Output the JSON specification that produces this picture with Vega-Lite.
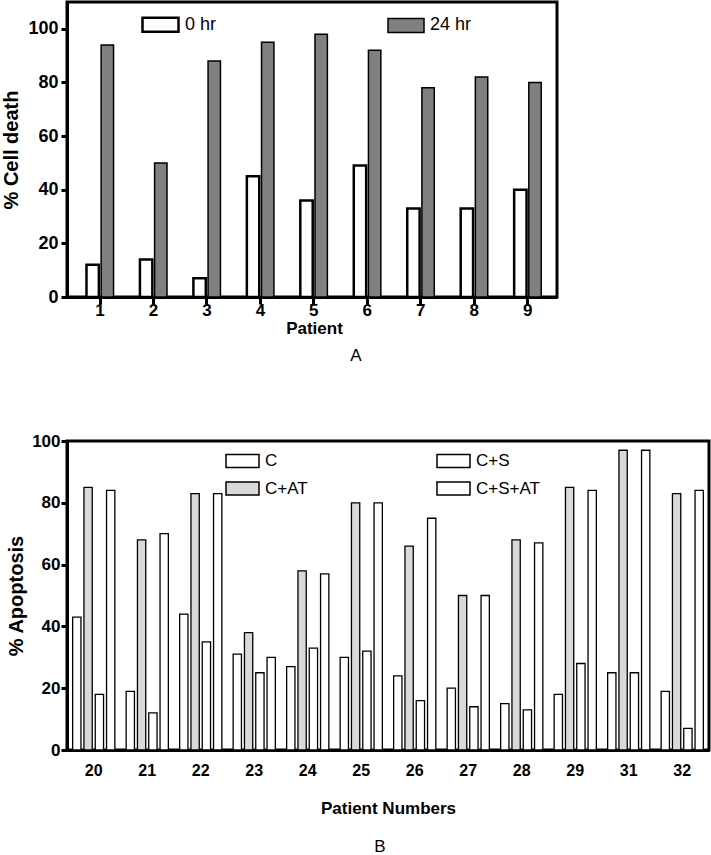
{
  "$schema": "https://vega.github.io/schema/vega-lite/v6.json",
  "padding": {"left": 0, "top": 0, "right": 1, "bottom": 0},
  "spacing": 64,
  "resolve": {"scale": {"fill": "independent", "xOffset": "independent", "strokeWidth": "independent", "x": "independent", "y": "independent"}, "legend": {"fill": "independent"}},
  "config": {
    "font": "Liberation Sans",
    "view": {"stroke": "black", "strokeWidth": 3},
    "axis": {
      "labelColor": "black", "labelFontWeight": "bold", "labelFontSize": 17, "labelFont": "Liberation Sans",
      "titleColor": "black", "titleFontWeight": "bold", "titleFontSize": 17, "titleFont": "Liberation Sans",
      "domainColor": "black", "domainWidth": 3, "tickColor": "black", "tickWidth": 3, "grid": false
    },
    "title": {"font": "Liberation Sans", "fontSize": 17, "fontWeight": "normal", "color": "black"}
  },
  "vconcat": [
    {
      "width": 490, "height": 295,
      "title": {"text": "A", "orient": "bottom", "anchor": "middle", "dx": 44, "offset": 12},
      "data": {"values": [
        {"patient": 1, "time": "0 hr", "value": 12}, {"patient": 1, "time": "24 hr", "value": 94},
        {"patient": 2, "time": "0 hr", "value": 14}, {"patient": 2, "time": "24 hr", "value": 50},
        {"patient": 3, "time": "0 hr", "value": 7}, {"patient": 3, "time": "24 hr", "value": 88},
        {"patient": 4, "time": "0 hr", "value": 45}, {"patient": 4, "time": "24 hr", "value": 95},
        {"patient": 5, "time": "0 hr", "value": 36}, {"patient": 5, "time": "24 hr", "value": 98},
        {"patient": 6, "time": "0 hr", "value": 49}, {"patient": 6, "time": "24 hr", "value": 92},
        {"patient": 7, "time": "0 hr", "value": 33}, {"patient": 7, "time": "24 hr", "value": 78},
        {"patient": 8, "time": "0 hr", "value": 33}, {"patient": 8, "time": "24 hr", "value": 82},
        {"patient": 9, "time": "0 hr", "value": 40}, {"patient": 9, "time": "24 hr", "value": 80}
      ]},
      "mark": {"type": "bar", "stroke": "black"},
      "encoding": {
        "x": {"field": "patient", "type": "ordinal", "scale": {"paddingInner": 0, "paddingOuter": 0.083, "align": 0.708},
              "axis": {"title": "Patient", "labelAngle": 0, "tickSize": 7, "labelPadding": -2, "titlePadding": 2, "titleX": 247}},
        "xOffset": {"field": "time", "type": "nominal", "sort": ["0 hr", "24 hr"], "scale": {"paddingInner": 0.155, "paddingOuter": 0.9}},
        "y": {"field": "value", "type": "quantitative", "scale": {"domain": [0, 110], "nice": false},
              "axis": {"values": [0, 20, 40, 60, 80, 100], "title": "% Cell death", "tickSize": 6, "labelPadding": 3, "titlePadding": 6, "labelFontSize": 18, "titleFontSize": 20}},
        "fill": {"field": "time", "type": "nominal", "scale": {"domain": ["0 hr", "24 hr"], "range": ["white", "#808080"]},
                 "legend": {"title": null, "orient": "none", "legendX": 74, "legendY": 3, "direction": "horizontal", "columnPadding": 168,
                            "symbolType": "M-1,-0.39H1V0.39H-1Z", "symbolSize": 1296, "symbolStrokeColor": "black", "symbolStrokeWidth": 2,
                            "labelFontSize": 18, "labelColor": "black", "labelOffset": 5, "labelFont": "Liberation Sans"}},
        "strokeWidth": {"field": "time", "type": "nominal", "scale": {"domain": ["0 hr", "24 hr"], "range": [2.5, 1.5]}, "legend": null}
      }
    },
    {
      "width": 642, "height": 309,
      "title": {"text": "B", "orient": "bottom", "anchor": "middle", "dx": -8, "offset": 23},
      "data": {"values": [
        {"patient": 20, "group": "C", "value": 43}, {"patient": 20, "group": "C+AT", "value": 85}, {"patient": 20, "group": "C+S", "value": 18}, {"patient": 20, "group": "C+S+AT", "value": 84},
        {"patient": 21, "group": "C", "value": 19}, {"patient": 21, "group": "C+AT", "value": 68}, {"patient": 21, "group": "C+S", "value": 12}, {"patient": 21, "group": "C+S+AT", "value": 70},
        {"patient": 22, "group": "C", "value": 44}, {"patient": 22, "group": "C+AT", "value": 83}, {"patient": 22, "group": "C+S", "value": 35}, {"patient": 22, "group": "C+S+AT", "value": 83},
        {"patient": 23, "group": "C", "value": 31}, {"patient": 23, "group": "C+AT", "value": 38}, {"patient": 23, "group": "C+S", "value": 25}, {"patient": 23, "group": "C+S+AT", "value": 30},
        {"patient": 24, "group": "C", "value": 27}, {"patient": 24, "group": "C+AT", "value": 58}, {"patient": 24, "group": "C+S", "value": 33}, {"patient": 24, "group": "C+S+AT", "value": 57},
        {"patient": 25, "group": "C", "value": 30}, {"patient": 25, "group": "C+AT", "value": 80}, {"patient": 25, "group": "C+S", "value": 32}, {"patient": 25, "group": "C+S+AT", "value": 80},
        {"patient": 26, "group": "C", "value": 24}, {"patient": 26, "group": "C+AT", "value": 66}, {"patient": 26, "group": "C+S", "value": 16}, {"patient": 26, "group": "C+S+AT", "value": 75},
        {"patient": 27, "group": "C", "value": 20}, {"patient": 27, "group": "C+AT", "value": 50}, {"patient": 27, "group": "C+S", "value": 14}, {"patient": 27, "group": "C+S+AT", "value": 50},
        {"patient": 28, "group": "C", "value": 15}, {"patient": 28, "group": "C+AT", "value": 68}, {"patient": 28, "group": "C+S", "value": 13}, {"patient": 28, "group": "C+S+AT", "value": 67},
        {"patient": 29, "group": "C", "value": 18}, {"patient": 29, "group": "C+AT", "value": 85}, {"patient": 29, "group": "C+S", "value": 28}, {"patient": 29, "group": "C+S+AT", "value": 84},
        {"patient": 31, "group": "C", "value": 25}, {"patient": 31, "group": "C+AT", "value": 97}, {"patient": 31, "group": "C+S", "value": 25}, {"patient": 31, "group": "C+S+AT", "value": 97},
        {"patient": 32, "group": "C", "value": 19}, {"patient": 32, "group": "C+AT", "value": 83}, {"patient": 32, "group": "C+S", "value": 7}, {"patient": 32, "group": "C+S+AT", "value": 84}
      ]},
      "mark": {"type": "bar", "stroke": "black", "strokeWidth": 1.3},
      "encoding": {
        "x": {"field": "patient", "type": "ordinal", "scale": {"paddingInner": 0, "paddingOuter": 0},
              "axis": {"title": "Patient Numbers", "labelAngle": 0, "ticks": false, "labelPadding": 12, "titlePadding": 22, "labelFontSize": 16}},
        "xOffset": {"field": "group", "type": "nominal", "sort": ["C", "C+AT", "C+S", "C+S+AT"], "scale": {"paddingInner": 0.265, "paddingOuter": 0.5}},
        "y": {"field": "value", "type": "quantitative", "scale": {"domain": [0, 100], "nice": false},
              "axis": {"values": [0, 20, 40, 60, 80, 100], "title": "% Apoptosis", "tickSize": 6, "labelPadding": 1, "titlePadding": 5, "titleFontSize": 20}},
        "fill": {"field": "group", "type": "nominal", "scale": {"domain": ["C", "C+S", "C+AT", "C+S+AT"], "range": ["white", "white", "#d9d9d9", "white"]},
                 "legend": {"title": null, "orient": "none", "legendX": 158, "legendY": 2, "direction": "horizontal", "columns": 2, "columnPadding": 126, "rowPadding": -1,
                            "symbolType": "M-1,-0.394H1V0.394H-1Z", "symbolSize": 1089, "symbolStrokeColor": "black", "symbolStrokeWidth": 1.5,
                            "labelFontSize": 17, "labelColor": "black", "labelOffset": 5, "labelFont": "Liberation Sans"}}
      }
    }
  ]
}
